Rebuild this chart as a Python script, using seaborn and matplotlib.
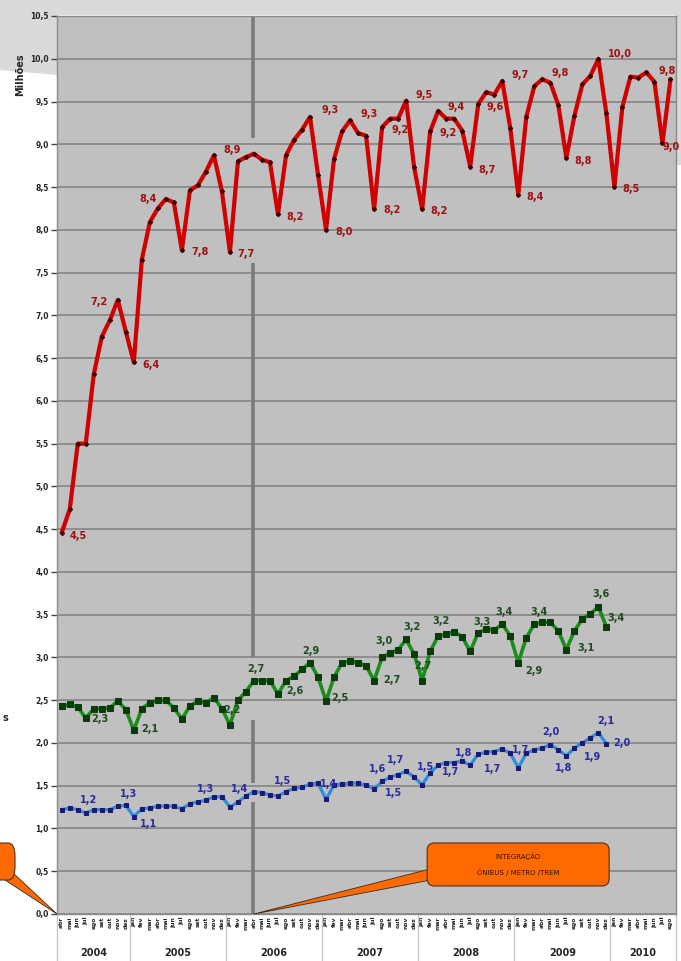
import numpy as np
import pandas as pd
import seaborn as sns
import matplotlib.pyplot as plt
from matplotlib.patches import FancyBboxPatch, Polygon
from matplotlib.transforms import blended_transform_factory

# Dados mensais (milhões), abr/2004 a ago/2010
meses_pt = ['jan', 'fev', 'mar', 'abr', 'mai', 'jun', 'jul', 'ago', 'set', 'out', 'nov', 'dez']
anos = ['2004', '2005', '2006', '2007', '2008', '2009', '2010']
primeiro_mes = 3  # abr

red = [4.46, 4.73, 5.50, 5.50, 6.31, 6.75, 6.94, 7.18, 6.81, 6.45,
       7.65, 8.09, 8.25, 8.36, 8.32, 7.76, 8.46, 8.52, 8.68, 8.87, 8.45,
       7.74, 8.80, 8.85, 8.89, 8.82, 8.79, 8.18, 8.87, 9.05, 9.17, 9.32, 8.64,
       8.00, 8.83, 9.15, 9.28, 9.13, 9.10, 8.24, 9.20, 9.30, 9.30, 9.51, 8.73,
       8.24, 9.15, 9.39, 9.30, 9.30, 9.16, 8.74, 9.47, 9.61, 9.58, 9.74, 9.19,
       8.41, 9.32, 9.68, 9.76, 9.72, 9.46, 8.84, 9.33, 9.70, 9.80, 10.00, 9.36,
       8.50, 9.44, 9.79, 9.78, 9.84, 9.73, 9.01, 9.76]

green = [2.43, 2.45, 2.42, 2.29, 2.40, 2.40, 2.41, 2.49, 2.39, 2.15,
         2.40, 2.47, 2.50, 2.50, 2.41, 2.28, 2.43, 2.49, 2.47, 2.53, 2.40,
         2.21, 2.50, 2.60, 2.73, 2.73, 2.73, 2.57, 2.73, 2.78, 2.86, 2.94, 2.77,
         2.49, 2.77, 2.94, 2.96, 2.94, 2.90, 2.73, 3.00, 3.05, 3.09, 3.21, 3.04,
         2.73, 3.07, 3.25, 3.27, 3.30, 3.24, 3.07, 3.29, 3.33, 3.32, 3.39, 3.25,
         2.94, 3.23, 3.39, 3.41, 3.41, 3.31, 3.09, 3.31, 3.45, 3.51, 3.59, 3.36]

blue = [1.22, 1.24, 1.22, 1.18, 1.22, 1.22, 1.22, 1.26, 1.27, 1.14,
        1.23, 1.24, 1.26, 1.26, 1.26, 1.23, 1.29, 1.31, 1.33, 1.37, 1.37,
        1.25, 1.31, 1.38, 1.43, 1.42, 1.39, 1.38, 1.43, 1.47, 1.48, 1.52, 1.53,
        1.34, 1.51, 1.52, 1.53, 1.53, 1.51, 1.46, 1.55, 1.60, 1.63, 1.67, 1.60,
        1.51, 1.65, 1.74, 1.77, 1.77, 1.79, 1.74, 1.87, 1.89, 1.90, 1.93, 1.88,
        1.71, 1.88, 1.92, 1.94, 1.98, 1.92, 1.85, 1.94, 2.00, 2.06, 2.12, 1.99]

# rótulos de dados (índice do mês, texto)
red_lbl_idx = [0, 7, 9, 13, 15, 19, 21, 27, 31, 33, 36, 39, 40, 43, 45, 46, 47,
               51, 52, 55, 57, 60, 63, 67, 69, 76, 75]
red_lbl_txt = ['4,5', '7,2', '6,4', '8,4', '7,8', '8,9', '7,7', '8,2', '9,3', '8,0',
               '9,3', '8,2', '9,2', '9,5', '8,2', '9,2', '9,4', '8,7', '9,6', '9,7',
               '8,4', '9,8', '8,8', '10,0', '8,5', '9,8', '9,0']
green_lbl_idx = [3, 9, 21, 24, 27, 31, 33, 40, 39, 43, 45, 47, 52, 55, 57, 60, 63, 67, 68]
green_lbl_txt = ['2,3', '2,1', '2,2', '2,7', '2,6', '2,9', '2,5', '3,0', '2,7', '3,2',
                 '2,7', '3,2', '3,3', '3,4', '2,9', '3,4', '3,1', '3,6', '3,4']
blue_lbl_idx = [3, 8, 9, 18, 23, 28, 33, 40, 42, 39, 45, 47, 50, 51, 57, 61, 63, 66, 67, 68]
blue_lbl_txt = ['1,2', '1,3', '1,1', '1,3', '1,4', '1,5', '1,4', '1,6', '1,7', '1,5',
                '1,5', '1,7', '1,8', '1,7', '1,7', '2,0', '1,8', '1,9', '2,1', '2,0']

# deslocamento dos rótulos (pixels)
red_off = [(17, -3), (-19, -2), (17, -3), (-18, 0), (18, -2), (18, 5), (16, -2), (17, -3),
           (20, 7), (18, -2), (19, 6), (18, -1), (18, -3), (18, 6), (17, -2), (18, -2),
           (18, 4), (17, -3), (17, -3), (18, 6), (17, -2), (18, 6), (17, -3), (22, 5),
           (17, -2), (-3, 8), (9, -4)]
green_off = [(14, -1), (16, 1), (2, 15), (2, 12), (17, 3), (1, 12), (14, 3), (2, 16), (18, 1),
             (6, 12), (1, 15), (3, 15), (4, 11), (2, 12), (16, -8), (-3, 10), (20, 2),
             (3, 13), (10, 9)]
blue_off = [(3, 13), (3, 11), (15, -7), (0, 11), (-6, 7), (-3, 11), (3, 15), (-5, 12),
            (-3, 15), (19, -4), (3, 18), (12, -7), (1, 8), (22, -4), (2, 18), (1, 13),
            (-3, -12), (2, -19), (7, 12), (15, 1)]

integracao = 23.9  # abr/2006

df_red = pd.DataFrame({'mes': range(len(red)), 'valor': red})
df_green = pd.DataFrame({'mes': range(len(green)), 'valor': green})
df_blue = pd.DataFrame({'mes': range(len(blue)), 'valor': blue})

sns.set_style('whitegrid', {'axes.facecolor': '#c0c0c0',
                            'grid.color': '#858585',
                            'axes.edgecolor': '#8a8a8a'})
plt.rcParams['font.family'] = ['DejaVu Sans']

W, H = 681, 961
fig = plt.figure(figsize=(W / 100, H / 100), dpi=100)
fig.patch.set_facecolor('white')

# faixa cinza clara do topo (scan)
fig.patches.append(Polygon([[0, 1], [1, 1], [1, 1 - 165 / H], [676 / W, 1 - 165 / H],
                            [676 / W, 1 - 15 / H], [57 / W, 1 - 15 / H],
                            [57 / W, 1 - 75 / H], [0, 1 - 70 / H]],
                           closed=True, transform=fig.transFigure,
                           facecolor='#dadada', edgecolor='none', zorder=-5))

ax = fig.add_axes([57 / W, 47 / H, 619 / W, 898 / H])

ax.vlines([integracao] * 4, [9.07, 3.0, 1.53, 0.0], [10.5, 7.61, 2.27, 1.31],
          color='#7a7a7a', lw=2.6, zorder=1.5)

sns.lineplot(data=df_red, x='mes', y='valor', ax=ax, color='#d00000', lw=3.0,
             marker='D', ms=2.2, mfc='#3a0000', mec='#3a0000', zorder=3)
sns.lineplot(data=df_green, x='mes', y='valor', ax=ax, color='#1a8c1a', lw=2.6,
             marker='s', ms=4.2, mfc='#0b3a0b', mec='#0b3a0b', zorder=3)
sns.lineplot(data=df_blue, x='mes', y='valor', ax=ax, color='#2a8ee0', lw=2.3,
             marker='s', ms=2.4, mfc='#1a1a70', mec='#1a1a70', zorder=3)

for serie, idxs, txts, offs, cor in [(red, red_lbl_idx, red_lbl_txt, red_off, '#a01010'),
                                     (green, green_lbl_idx, green_lbl_txt, green_off, '#1f4a1f'),
                                     (blue, blue_lbl_idx, blue_lbl_txt, blue_off, '#2a2aa0')]:
    for i, t, o in zip(idxs, txts, offs):
        ax.annotate(t, xy=(i, serie[i]), xytext=o, textcoords='offset pixels',
                    ha='center', va='center', fontsize=7, fontweight='bold',
                    color=cor, zorder=4, annotation_clip=False)

# eixos
ax.set_xlim(-0.59, 76.69)
ax.set_ylim(0, 10.5)
yt = np.arange(0, 10.51, 0.5)
ax.set_yticks(yt)
ax.set_yticklabels([f'{v:.1f}'.replace('.', ',') for v in yt], fontsize=5.5, fontweight='bold')
ax.yaxis.grid(True, lw=1.2)
ax.xaxis.grid(False)
ax.tick_params(axis='y', length=4, width=1, color='#444444', pad=2, left=True)
ax.set_xlabel('')
ax.set_ylabel('')

n = len(red)
ax.set_xticks(range(n))
ax.set_xticklabels([meses_pt[(primeiro_mes + i) % 12] for i in range(n)],
                   rotation=90, fontsize=4.3, fontweight='bold')
ax.tick_params(axis='x', length=0, pad=2)
for s in ax.spines.values():
    s.set_color('#8a8a8a')
    s.set_linewidth(1)

# anos e divisões
tr = blended_transform_factory(ax.transData, ax.transAxes)
lo, hi = ax.get_xlim()
limites = [lo] + [8.5 + 12 * k for k in range(6)] + [hi]
for k, ano in enumerate(anos):
    ax.text((limites[k] + limites[k + 1]) / 2, -0.0434, ano, transform=tr,
            ha='center', va='center', fontsize=7, fontweight='bold')
for b in limites:
    ax.plot([b, b], [0, -0.06], transform=tr, color='#c8c8c8', lw=1, clip_on=False)

fig.text(20 / W, 1 - 75 / H, 'Milhões', rotation=90, fontsize=7, fontweight='bold',
         ha='center', va='center')
fig.text(5 / W, 1 - 718 / H, 's', fontsize=7, fontweight='bold', ha='center', va='center')

# caixa de destaque
caixa = FancyBboxPatch((0.598, 0.0312), 0.294, 0.0479, transform=ax.transAxes,
                       boxstyle='round,pad=0,rounding_size=0.012', mutation_aspect=619 / 898,
                       facecolor='#ff6a00', edgecolor='#4a3020', lw=0.8, clip_on=False, zorder=6)
ax.add_patch(caixa)
ax.text(0.745, 0.0555, 'INTEGRAÇÃO\nÔNIBUS / METRO /TREM', transform=ax.transAxes,
        ha='center', va='center', fontsize=5, color='#2b1300', linespacing=2.3, zorder=7)
ax.annotate('', xy=(24.0, 0), xycoords='data', xytext=(0.61, 0.045), textcoords='axes fraction',
            arrowprops=dict(arrowstyle='wedge,tail_width=0.8', fc='#ff6a00', ec='#3a2a1a',
                            lw=0.6, shrinkA=0, shrinkB=0),
            annotation_clip=False, zorder=5)

caixa2 = FancyBboxPatch((-12 / W, 1 - 880 / H), 27 / W, 37 / H, transform=fig.transFigure,
                        boxstyle='round,pad=0,rounding_size=0.01', mutation_aspect=H / W,
                        facecolor='#ff6a00', edgecolor='#4a3020', lw=0.8, zorder=6)
fig.patches.append(caixa2)
ax.annotate('', xy=(0, 0), xycoords='axes fraction', xytext=(6, H - 874), textcoords='figure pixels',
            arrowprops=dict(arrowstyle='wedge,tail_width=0.8', fc='#ff6a00', ec='#3a2a1a',
                            lw=0.6, shrinkA=0, shrinkB=0),
            annotation_clip=False, zorder=5)

fig.savefig('out.png', dpi=100)
